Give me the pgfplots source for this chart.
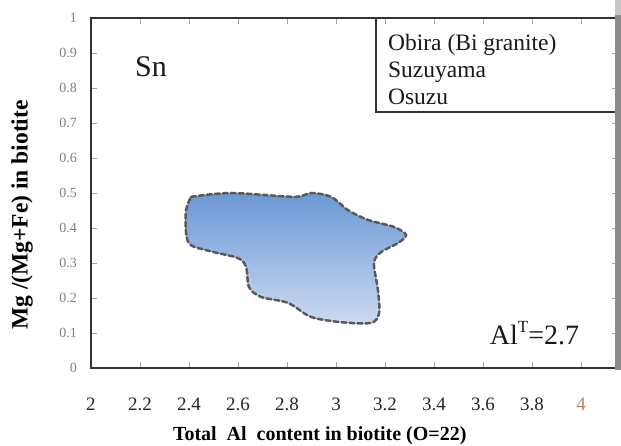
\documentclass[border=0pt]{standalone}
\usepackage{pgfplots}
\pgfplotsset{compat=1.18}
\usepackage{fontspec}
\setmainfont{Liberation Serif}
\definecolor{axcol}{HTML}{333333}
\definecolor{blobtop}{HTML}{6B98D6}
\definecolor{blobbot}{HTML}{CCDAF0}
\definecolor{tan4}{HTML}{B08A5A}
\begin{document}
\begin{tikzpicture}[x=1pt,y=1pt]
\begin{axis}[
  at={(0,0)}, anchor=south west,
  scale only axis, width=527pt, height=350pt,
  xmin=2, xmax=4.151, ymin=0, ymax=1,
  clip=false,
  axis line style={axcol, line width=2.2pt},
  xtick={2,2.2,2.4,2.6,2.8,3,3.2,3.4,3.6,3.8,4},
  xticklabels={2,2.2,2.4,2.6,2.8,3,3.2,3.4,3.6,3.8,{\color{tan4}4}},
  ytick={0,0.1,0.2,0.3,0.4,0.5,0.6,0.7,0.8,0.9,1},
  yticklabels={0,0.1,0.2,0.3,0.4,0.5,0.6,0.7,0.8,0.9,1},
  tick align=inside,
  major tick length=6pt,
  tick style={gray!70, line width=0.8pt},
  xticklabel style={font=\fontsize{19}{19}\selectfont, text=black!85, anchor=center, yshift=-36pt},
  yticklabel style={font=\fontsize{14}{14}\selectfont, text=gray, anchor=east, inner sep=0pt, xshift=-14pt},
  xlabel={Total\ \ Al\ \ content in biotite (O=22)},
  xlabel style={font=\bfseries\fontsize{20}{20}\selectfont, at={(axis description cs:0.434,-0.194)}, anchor=center},
  ylabel={Mg /(Mg+Fe) in biotite},
  ylabel style={font=\bfseries\fontsize{23.5}{23.5}\selectfont, at={(axis description cs:-0.131,0.437)}, anchor=center},
]
\addplot[smooth, tension=0.5, top color=blobtop, bottom color=blobbot, draw=black!65,
  line width=2.5pt, dash pattern=on 5pt off 3pt, line cap=round] coordinates {
(2.408,0.489) (2.571,0.500) (2.829,0.489) (2.898,0.500) (2.980,0.489)
(3.049,0.451) (3.131,0.423) (3.237,0.403) (3.286,0.380) (3.253,0.357)
(3.184,0.331) (3.155,0.300) (3.171,0.223) (3.176,0.157) (3.143,0.129)
(3.020,0.131) (2.898,0.146) (2.804,0.186) (2.694,0.203) (2.645,0.231)
(2.633,0.289) (2.600,0.314) (2.502,0.331) (2.408,0.351) (2.388,0.386)
(2.388,0.451) (2.408,0.489)
} -- cycle;
\node[font=\fontsize{30}{30}\selectfont, text=black!90] at (axis cs:2.245,0.86) {Sn};
\node[font=\fontsize{28}{28}\selectfont, text=black!90] at (axis cs:3.81,0.1)
  {Al\raisebox{0.42em}{\fontsize{17}{17}\selectfont T}=2.7};
\draw[axcol, line width=1.3pt] (axis cs:3.163,1) rectangle (axis cs:4.151,0.731);
\node[anchor=north west, align=left, inner sep=0pt, font=\fontsize{23.5}{27}\selectfont, text=black!90]
  at ([xshift=12pt,yshift=-16.5pt]axis cs:3.163,1) {Obira (Bi granite)\\Suzuyama\\Osuzu};
\end{axis}
\fill[black!22] (524,353) rectangle (530,368);
\fill[black!45] (524,-2) rectangle (530,353);
\pgfresetboundingbox
\path[use as bounding box] (-91,-78) rectangle (530,368);
\end{tikzpicture}
\end{document}
